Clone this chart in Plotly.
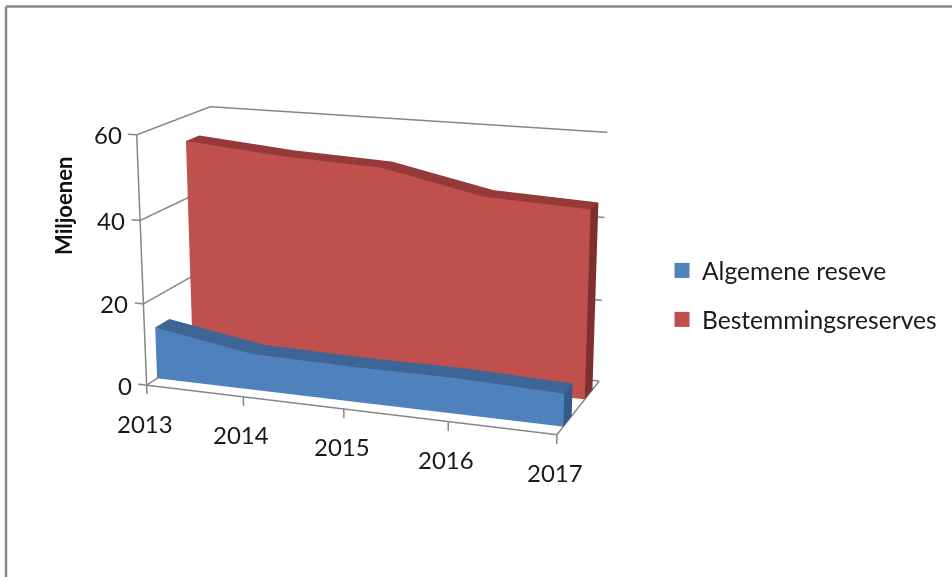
import plotly.graph_objects as go

years = [2013, 2014, 2015, 2016, 2017]
algemene = [12.7, 8.8, 8.4, 8.5, 7.7]
bestemming = [54, 52, 51, 46, 45]
z_ticks = [0, 20, 40, 60]
names = ["Algemene reseve", "Bestemmingsreserves"]
y_title = "Miljoenen"

# Depth slots of the two area ribbons inside the chart box (0 = front, 1 = back)
depth_blue = (0.14, 0.33)
depth_red = (0.64, 0.83)

# Camera calibrated to the reference; the tall scene gives the long lens the chart needs
EYE = (1.4301, -3.8449, 1.0824)
CENTER = (0.0547, -0.0093, -0.0943)
AY, AZ = 0.3907, 0.6001
CX = 393.9065
H = 1510
TOP = -451.92


def py(y):
    return 1 - (y - TOP) / H


def ribbon(vals, depth, c_front, c_top, c_side):
    xs, ys, zs = [], [], []
    for yr, v in zip(years, vals):
        for d, h in ((depth[0], 0), (depth[0], v), (depth[1], 0), (depth[1], v)):
            xs.append(yr)
            ys.append(d)
            zs.append(h)
    I, J, K, col = [], [], [], []

    def quad(a, b, c, d, color):
        I.extend([a, a])
        J.extend([b, c])
        K.extend([c, d])
        col.extend([color, color])

    n = len(vals)
    for s in range(n - 1):
        a = 4 * s
        b = 4 * (s + 1)
        quad(a, b, b + 1, a + 1, c_front)
        quad(a + 1, b + 1, b + 3, a + 3, c_top)
    e = 4 * (n - 1)
    quad(e, e + 2, e + 3, e + 1, c_side)
    quad(0, 2, 3, 1, c_side)
    return go.Mesh3d(x=xs, y=ys, z=zs, i=I, j=J, k=K, facecolor=col, flatshading=True,
                     lighting=dict(ambient=1, diffuse=0, specular=0, roughness=1, fresnel=0),
                     hoverinfo="skip", showlegend=False)


fig = go.Figure()
LINE = "#868686"
lx, ly, lz = [], [], []


def seg(*pts):
    for a in pts:
        lx.append(a[0])
        ly.append(a[1])
        lz.append(a[2])
    lx.append(None)
    ly.append(None)
    lz.append(None)


x0, x1 = years[0], years[-1]
for z in z_ticks:
    seg((x0, 0, z), (x0, 1, z), (x1, 1, z))
    seg((x0 - 0.09, 0, z), (x0, 0, z))
seg((x0, 0, 0), (x0, 0, z_ticks[-1]))
seg((x0, 0, 0), (x1, 0, 0), (x1, 1, 0))
for yr in years:
    seg((yr, 0, 0), (yr, 0, -2.2))
fig.add_trace(go.Scatter3d(x=lx, y=ly, z=lz, mode="lines", line=dict(color=LINE, width=3),
                           hoverinfo="skip", showlegend=False))
fig.add_trace(ribbon(bestemming, depth_red, "#C0504D", "#953A38", "#7F2F2D"))
fig.add_trace(ribbon(algemene, depth_blue, "#4F81BD", "#3D6595", "#345A87"))
for n_, c in zip(names, ["#4F81BD", "#C0504D"]):
    fig.add_trace(go.Scatter(x=[None], y=[None], mode="markers", name=n_, legendgroup=n_,
                             marker=dict(symbol="square", size=15, color=c)))

FONT = dict(family="Lato", size=24, color="#1a1a1a")
ann = []
for yr in years:
    ann.append(dict(x=yr, y=0, z=0, text=str(yr), showarrow=False, yshift=-38, xshift=-2, font=FONT))
for z in z_ticks:
    ann.append(dict(x=x0, y=0, z=z, text=str(z), showarrow=False, xanchor="right", xshift=-13, font=FONT))
axis = dict(showgrid=False, zeroline=False, showline=False, showticklabels=False, ticks="",
            showbackground=False, showspikes=False, title=dict(text=""))
fig.update_layout(
    width=952, height=H, margin=dict(l=0, r=0, t=0, b=0), paper_bgcolor="white",
    plot_bgcolor="rgba(0,0,0,0)", hovermode=False,
    xaxis=dict(visible=False), yaxis=dict(visible=False),
    scene=dict(domain=dict(x=[0, 2 * CX / 952], y=[0, 1]),
               xaxis=dict(axis, range=[x0 - 0.1, x1 + 0.1]),
               yaxis=dict(axis, range=[-0.1, 1.1]),
               zaxis=dict(axis, range=[-4, 64]),
               aspectmode="manual", aspectratio=dict(x=4.2 / 4, y=AY * 1.2, z=AZ * 68 / 60),
               camera=dict(eye=dict(x=EYE[0], y=EYE[1], z=EYE[2]),
                           center=dict(x=CENTER[0], y=CENTER[1], z=CENTER[2]),
                           up=dict(x=0, y=0, z=1), projection=dict(type="perspective")),
               annotations=ann),
    legend=dict(x=662 / 952, y=py(248), xanchor="left", yanchor="top",
                font=dict(FONT, size=24.6), tracegroupgap=14, itemwidth=30,
                bgcolor="rgba(0,0,0,0)", itemclick=False, itemdoubleclick=False),
    annotations=[dict(xref="paper", yref="paper", x=64 / 952, y=py(206), xanchor="center", yanchor="middle",
                      text=f"<b>{y_title}</b>", textangle=-90, showarrow=False,
                      font=dict(family="Lato", size=22, color="#111"))],
    shapes=[dict(type="line", xref="paper", yref="paper", x0=6 / 952, x1=1, y0=py(6.5), y1=py(6.5),
                 line=dict(color=LINE, width=2.5)),
            dict(type="line", xref="paper", yref="paper", x0=6 / 952, x1=6 / 952, y0=py(6.5), y1=py(600),
                 line=dict(color=LINE, width=2.5))],
)
js = ("document.body.style.margin='0';document.body.style.overflow='hidden';"
      "var g=document.getElementsByClassName('plotly-graph-div')[0];"
      f"g.style.position='absolute';g.style.left='0';g.style.top='{TOP}px';")
fig.write_html("out.html", post_script=js, config=dict(displayModeBar=False))
